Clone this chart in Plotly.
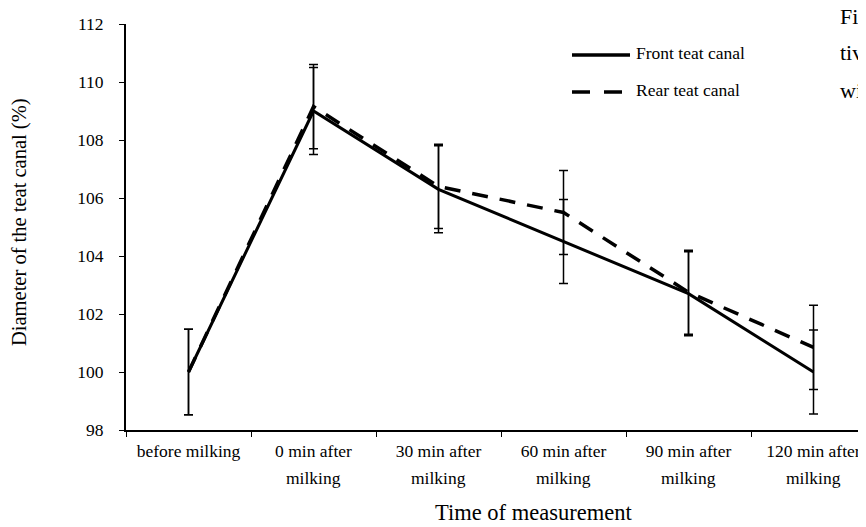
import plotly.graph_objects as go

# ---- data ----
categories = ["before milking", "0 min after milking", "30 min after milking",
              "60 min after milking", "90 min after milking", "120 min after milking"]
tick_line1 = ["before milking", "0 min after", "30 min after", "60 min after",
              "90 min after", "120 min after"]
tick_line2 = ["", "milking", "milking", "milking", "milking", "milking"]
front_values = [100.0, 109.0, 106.3, 104.5, 102.7, 100.0]
front_errors = [1.47, 1.5, 1.5, 1.45, 1.45, 1.45]
rear_values = [100.0, 109.15, 106.4, 105.5, 102.75, 100.85]
rear_errors = [1.47, 1.45, 1.45, 1.45, 1.45, 1.45]
y_ticks = [98, 100, 102, 104, 106, 108, 110, 112]

# the page body has an 8px default margin: figure px = window px - 8
OFF = 8
W, H = 866, 527
L, T, R, B = 126 - OFF, 24 - OFF, OFF, H - (430 - OFF)
PW, PH = W - L - R, H - T - B
FONT = "Liberation Serif"


def px(p):
    """window x pixel -> paper x"""
    return (p - OFF - L) / PW


def py(p):
    """window y pixel -> paper y"""
    return (H - B - (p - OFF)) / PH


fig = go.Figure()
fig.add_trace(go.Scatter(
    x=categories, y=rear_values, mode="lines", name="Rear teat canal",
    line=dict(color="black", width=3.5, dash="16px,12px"),
    error_y=dict(type="data", array=rear_errors, color="black", thickness=1.5, width=4.5),
    showlegend=False,
))
fig.add_trace(go.Scatter(
    x=categories, y=front_values, mode="lines", name="Front teat canal",
    line=dict(color="black", width=3),
    error_y=dict(type="data", array=front_errors, color="black", thickness=1.5, width=4.5),
    showlegend=False,
))

# manual legend
fig.add_shape(type="line", xref="paper", yref="paper", x0=px(572), x1=px(630), y0=py(55), y1=py(55),
              line=dict(color="black", width=3.5))
fig.add_shape(type="line", xref="paper", yref="paper", x0=px(572), x1=px(630), y0=py(92), y1=py(92),
              line=dict(color="black", width=3.5, dash="18px,14px"))
ann = [
    dict(text="Front teat canal", x=px(634), y=py(53), xanchor="left", yanchor="middle",
         font=dict(size=17.5)),
    dict(text="Rear teat canal", x=px(634), y=py(90), xanchor="left", yanchor="middle",
         font=dict(size=17.5)),
    dict(text="Time of measurement", x=px(533), y=py(512), xanchor="center", yanchor="middle",
         font=dict(size=22.5)),
    dict(text="Diameter of the teat canal (%)", x=px(20), y=py(222), xanchor="center",
         yanchor="middle", textangle=-90, font=dict(size=20.5)),
    dict(text="Figure", x=px(838), y=py(16), xanchor="left", yanchor="middle", font=dict(size=22)),
    dict(text="tive", x=px(838), y=py(53), xanchor="left", yanchor="middle", font=dict(size=22)),
    dict(text="with", x=px(838), y=py(90), xanchor="left", yanchor="middle", font=dict(size=22)),
]
for a in ann:
    fig.add_annotation(xref="paper", yref="paper", showarrow=False, **a)

# second lines of the category labels
for c, t2 in zip(categories, tick_line2):
    if t2:
        fig.add_annotation(x=c, xref="x", y=py(478), yref="paper", text=t2, showarrow=False,
                           xanchor="center", yanchor="middle", font=dict(size=17.5))

fig.update_layout(
    template="none",
    width=W, height=H,
    margin=dict(l=L, r=R, t=T, b=B, pad=0, autoexpand=False),
    paper_bgcolor="white", plot_bgcolor="white",
    font=dict(family=FONT, color="black", size=17.5),
    showlegend=False,
)
fig.update_xaxes(
    type="category", categoryorder="array", categoryarray=categories,
    tickmode="array", tickvals=categories, ticktext=tick_line1,
    tickson="boundaries", range=[-0.5, -0.5 + PW / 125.0],
    showline=True, linecolor="black", linewidth=2, automargin=False,
    ticks="outside", ticklen=5, tickwidth=1.2, tickcolor="black",
    ticklabelstandoff=4,
    showgrid=False, zeroline=False,
    tickfont=dict(size=17.5, family=FONT),
)
fig.update_yaxes(
    range=[98, 112], tickmode="array", tickvals=y_ticks, automargin=False,
    showline=True, linecolor="black", linewidth=2,
    ticks="outside", ticklen=5, tickwidth=1.2, tickcolor="black",
    ticklabelstandoff=12,
    showgrid=False, zeroline=False,
    tickfont=dict(size=17.5, family=FONT),
)

fig.write_html("out.html")
